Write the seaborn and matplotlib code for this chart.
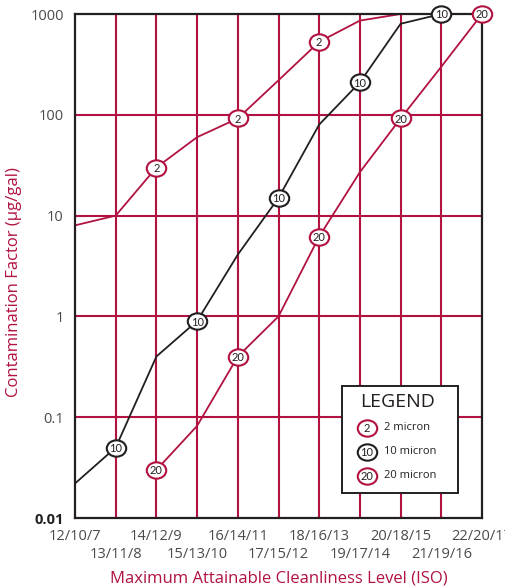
import numpy as np
import pandas as pd
import matplotlib
matplotlib.use("Agg")
import matplotlib.pyplot as plt
from matplotlib.path import Path
from matplotlib.transforms import Affine2D
from matplotlib.patches import Rectangle
import seaborn as sns

# ---------------- data ----------------
iso_codes = ["12/10/7", "13/11/8", "14/12/9", "15/13/10", "16/14/11", "17/15/12",
             "18/16/13", "19/17/14", "20/18/15", "21/19/16", "22/20/17"]

micron2_idx = [0, 1, 2, 3, 4, 5, 6, 7, 8]
micron2_val = [8, 10, 30, 60, 92, 220, 530, 860, 1000]
micron2_marked = [2, 4, 6]

micron10_idx = [0, 1, 2, 3, 4, 5, 6, 7, 8, 9]
micron10_val = [0.022, 0.05, 0.4, 0.9, 4.1, 15, 80, 210, 800, 1000]
micron10_marked = [1, 3, 5, 7, 9]

micron20_idx = [2, 3, 4, 5, 6, 7, 8, 9, 10]
micron20_val = [0.03, 0.082, 0.4, 1.0, 6.2, 27, 92, 300, 1000]
micron20_marked = [2, 4, 6, 8, 10]

series_names = ["2 micron", "10 micron", "20 micron"]
series_tags = ["2", "10", "20"]

y_ticks = [0.01, 0.1, 1, 10, 100, 1000]
y_tick_labels = ["0.01", "0.1", "1", "10", "100", "1000"]

# ---------------- style ----------------
CRIMSON = "#B1123F"
BLACK = "#231F20"
GREY = "#4a4a4a"
colors = {"2 micron": CRIMSON, "10 micron": BLACK, "20 micron": CRIMSON}

sns.set_style("white")
plt.rcParams["font.family"] = ["Open Sans", "DejaVu Sans"]

frames = []
for name, xs, ys in zip(series_names, [micron2_idx, micron10_idx, micron20_idx],
                        [micron2_val, micron10_val, micron20_val]):
    frames.append(pd.DataFrame({"pos": xs, "value": ys, "series": name}))
df = pd.concat(frames, ignore_index=True)

fig = plt.figure(figsize=(5.06, 5.88), dpi=100)
ax = fig.add_axes([75 / 506, 70 / 588, 407 / 506, 504 / 588])

ax.set_yscale("log")
ax.set_xlim(0, len(iso_codes) - 1)
ax.set_ylim(0.01, 1000)

# grid lines (crimson)
for i in range(1, len(iso_codes) - 1):
    ax.axvline(i, color=CRIMSON, lw=1.5, zorder=1)
for v in y_ticks[1:-1]:
    ax.axhline(v, color=CRIMSON, lw=1.5, zorder=1)

sns.lineplot(data=df, x="pos", y="value", hue="series", palette=colors,
             estimator=None, sort=False, lw=1.3, legend=False, ax=ax, zorder=3)

# ellipse marker
ell = Path.unit_circle().transformed(Affine2D().scale(1.19, 1.0))
MS = 14
MEW = 1.5
TAG_FONT = dict(fontsize=8, family=["Lato", "DejaVu Sans"], color=BLACK)

def draw_markers(xs, ys, marked, color, tag):
    lookup = dict(zip(xs, ys))
    mx = [m for m in marked]
    my = [lookup[m] for m in marked]
    ax.plot(mx, my, ls="none", marker=ell, ms=MS, mfc="white", mec=color,
            mew=MEW, zorder=5, clip_on=False)
    for x, y in zip(mx, my):
        ax.text(x, y, tag, ha="center", va="center_baseline", zorder=6,
                clip_on=False, **TAG_FONT)

draw_markers(micron2_idx, micron2_val, micron2_marked, CRIMSON, "2")
draw_markers(micron10_idx, micron10_val, micron10_marked, BLACK, "10")
draw_markers(micron20_idx, micron20_val, micron20_marked, CRIMSON, "20")

# spines
for s in ax.spines.values():
    s.set_color(BLACK)
    s.set_linewidth(1.6)
    s.set_visible(True)
    s.set_zorder(4)

# ticks: even categories on the upper row (major), odd ones on the lower row (minor)
ax.set_xticks(range(0, len(iso_codes), 2))
ax.set_xticklabels(iso_codes[0::2], fontsize=10.5, color=GREY)
ax.set_xticks(range(1, len(iso_codes), 2), minor=True)
ax.set_xticklabels(iso_codes[1::2], minor=True, fontsize=10.5, color=GREY)
ax.set_yticks(y_ticks)
ax.set_yticklabels(y_tick_labels, fontsize=10.5, color=GREY)
ax.yaxis.set_minor_locator(matplotlib.ticker.NullLocator())
ax.yaxis.get_ticklabels()[0].set_color(BLACK)
ax.yaxis.get_ticklabels()[0].set_fontweight("bold")
ax.tick_params(axis="both", which="both", length=0)
ax.tick_params(axis="x", which="major", pad=8)
ax.tick_params(axis="x", which="minor", pad=21)
ax.tick_params(axis="y", pad=8)

ax.set_xlabel("Maximum Attainable Cleanliness Level (ISO)", fontsize=12, color=CRIMSON)
ax.set_ylabel("Contamination Factor (µg/gal)", fontsize=12, color=CRIMSON)
ax.xaxis.set_label_coords(0.5, -0.105)
ax.yaxis.set_label_coords(-0.13, 0.468)

# legend box (manual, axes coords)
lx0, ly0 = (342 - 75) / 407, (518 - 493) / 504
lw_, lh_ = (458 - 342) / 407, (493 - 386) / 504
ax.add_patch(Rectangle((lx0, ly0), lw_, lh_, transform=ax.transAxes,
                       facecolor="white", edgecolor=BLACK, lw=1.4, zorder=7))
ax.text((398 - 75) / 407, (518 - 402) / 504, "LEGEND", transform=ax.transAxes,
        ha="center", va="center", fontsize=14, color=BLACK, zorder=8)
for name, tag, col, py in zip(series_names, series_tags,
                              [CRIMSON, BLACK, CRIMSON], [428, 452, 476]):
    yy = (518 - py) / 504
    ax.plot([(367 - 75) / 407], [yy], transform=ax.transAxes, ls="none", marker=ell,
            ms=MS, mfc="white", mec=col, mew=MEW, zorder=8, clip_on=False)
    ax.text((367 - 75) / 407, yy, tag, transform=ax.transAxes, ha="center",
            va="center_baseline", zorder=9, **TAG_FONT)
    ax.text((384 - 75) / 407, yy, name, transform=ax.transAxes, ha="left",
            va="center", fontsize=8, color=BLACK, zorder=9)

fig.savefig("out.png", dpi=100)
